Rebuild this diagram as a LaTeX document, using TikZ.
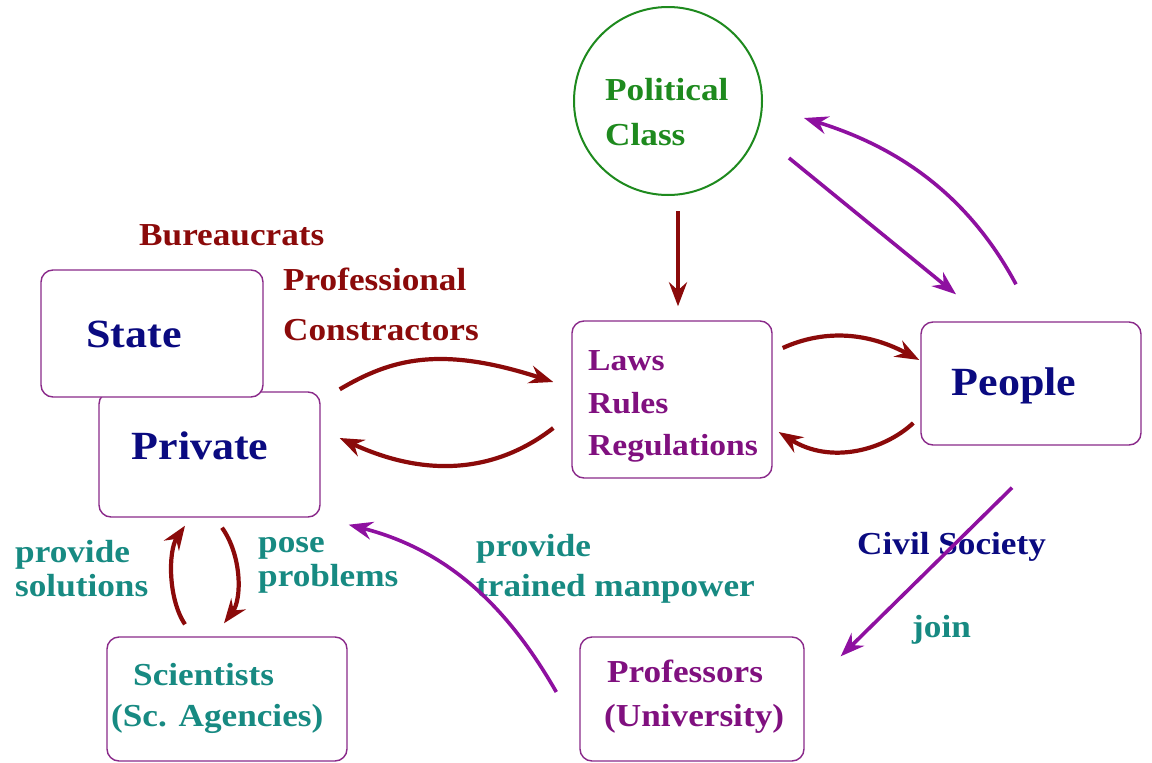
\documentclass[tikz,border=0pt]{standalone}
\usepackage{fontspec}
\setmainfont{Liberation Serif}[FakeStretch=1.1]
\usetikzlibrary{arrows.meta,calc}

\definecolor{brn}{HTML}{8B0A0A}
\definecolor{parr}{HTML}{8E10A0}
\definecolor{ptxt}{HTML}{80107F}
\definecolor{pbox}{HTML}{8A2A8A}
\definecolor{navy}{HTML}{0A0A80}
\definecolor{tealc}{HTML}{178A82}
\definecolor{grn}{HTML}{1E8A1E}

\tikzset{
  box/.style={draw=pbox, line width=1.4pt, rounded corners=12pt, fill=white,
              inner sep=0pt, minimum width=#1},
  big/.style={font=\fontsize{40}{44}\selectfont\bfseries, inner sep=0pt, anchor=base},
  lbl/.style={font=\fontsize{32}{36}\selectfont\bfseries, inner sep=0pt, anchor=base west},
  lawtxt/.style={font=\fontsize{30.5}{34}\selectfont\bfseries, inner sep=0pt, anchor=base west, text=ptxt},
  tip/.style={-{Stealth[length=24pt,width=18pt,inset=8pt]}},
  brnarrow/.style={tip, draw=brn, line width=4.2pt},
  purarrow/.style={tip, draw=parr, line width=3.6pt},
}

\begin{document}
\begin{tikzpicture}[x=1pt,y=-1pt]
  \fill[white] (0,0) rectangle (1152,763);
  \useasboundingbox (0,0) rectangle (1152,763);

  % boxes
  \node[box=221pt, minimum height=125pt] (private) at (209.5,454.5) {};
  \node[box=222pt, minimum height=127pt] (state) at (152,333.5) {};
  \node[box=200pt, minimum height=157pt] (laws) at (672,399.5) {};
  \node[box=220pt, minimum height=123pt] (people) at (1031,383.5) {};
  \node[box=240pt, minimum height=124pt] (sci) at (227,699) {};
  \node[box=224pt, minimum height=124pt] (prof) at (692,699) {};
  \node[draw=grn, line width=2pt, circle, minimum size=188pt, inner sep=0pt] (pol) at (668,101) {};

  % box texts
  \node[big, text=navy] (statelbl) at (134,347) {State};
  \node[big, text=navy] (privatelbl) at (200,459) {Private};
  \node[big, text=navy] (peoplelbl) at (1014,395) {People};
  \node[lbl, text=grn] (pol1) at (605,100) {Political};
  \node[lbl, text=grn] (pol2) at (605,145) {Class};
  \node[lawtxt] (law1) at (588,370) {Laws};
  \node[lawtxt] (law2) at (588,413) {Rules};
  \node[lawtxt] (law3) at (588,455) {Regulations};
  \node[lbl, text=tealc] (sci1) at (133,685) {Scientists};
  \node[lbl, text=tealc] (sci2) at (111,726) {(Sc. Agencies)};
  \node[lbl, text=ptxt] (prof1) at (607,682) {Professors};
  \node[lbl, text=ptxt] (prof2) at (604,726) {(University)};

  % free labels
  \node[lbl, text=brn] (bur) at (139,245) {Bureaucrats};
  \node[lbl, text=brn] (pro) at (283,290) {Professional};
  \node[lbl, text=brn] (con) at (283,340) {Constractors};
  \node[lbl, text=tealc] (solA) at (15,562) {provide};
  \node[lbl, text=tealc] (solB) at (15,596) {solutions};
  \node[lbl, text=tealc] (posA) at (258,552) {pose};
  \node[lbl, text=tealc] (posB) at (258,586) {problems};
  \node[lbl, text=tealc] (manA) at (476,556) {provide};
  \node[lbl, text=tealc] (manB) at (476,596) {trained manpower};
  \node[lbl, text=navy] (civ) at (857,554) {Civil Society};
  \node[lbl, text=tealc] (join) at (912,637) {join};

  % connectors
  \draw[brnarrow] ($(private.north east)+(19,-2)$) .. controls +(51,-30) and +(-114,-37) .. ($(laws.west)+(-18,-17.5)$);
  \draw[brnarrow] ($(laws.west)+(-18,28.5)$) .. controls +(-54,42) and +(91,42) .. ($(private.east)+(19,-16.5)$);
  \draw[brnarrow] ($(pol.south)+(10,15)$) -- ($(laws.north)+(6,-14)$);
  \draw[brnarrow] ($(laws.east)+(10,-51.5)$) .. controls +(33,-15) and +(-60,-32) .. ($(people.west)+(-1,-23.5)$);
  \draw[brnarrow] ($(people.west)+(-7,39.5)$) .. controls +(-29,27) and +(52,33) .. ($(laws.east)+(6,32.5)$);
  \draw[purarrow] ($(people.north)+(-15,-37)$) .. controls +(-51,-95) and +(87,27) .. ($(pol.east)+(41,17)$);
  \draw[purarrow] ($(pol.east)+(26,57)$) -- ($(people.north)+(-75,-27)$);
  \draw[purarrow] ($(people.south)+(-19,42)$) -- ($(prof.north east)+(36,20)$);
  \draw[purarrow] ($(prof.west)+(-23,-7)$) .. controls +(-47,-82) and +(102,26) .. ($(private.south east)+(28,7)$);
  \draw[brnarrow] ($(sci.north)+(-42,-12)$) .. controls +(-17,-25) and +(-17,25) .. ($(private.south)+(-24.5,8)$);
  \draw[brnarrow] ($(private.south)+(12.5,10)$) .. controls +(20,28) and +(18,-24) .. ($(sci.north)+(-3,-13)$);
\end{tikzpicture}
\end{document}
